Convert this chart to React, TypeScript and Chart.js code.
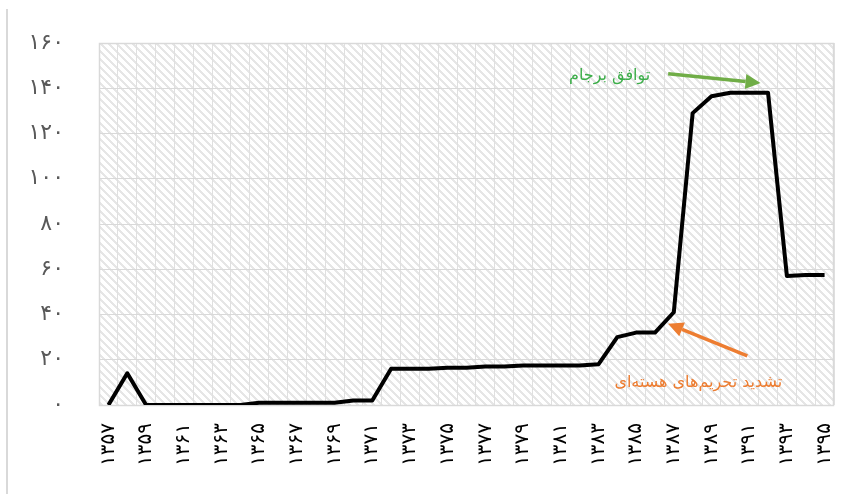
import React, { useEffect, useRef } from "react";
import { Chart, registerables } from "chart.js";

Chart.register(...registerables);

// Categories (solar years, Persian digits)
const years = [
  "۱۳۵۷", "۱۳۵۸", "۱۳۵۹", "۱۳۶۰", "۱۳۶۱", "۱۳۶۲", "۱۳۶۳", "۱۳۶۴", "۱۳۶۵", "۱۳۶۶",
  "۱۳۶۷", "۱۳۶۸", "۱۳۶۹", "۱۳۷۰", "۱۳۷۱", "۱۳۷۲", "۱۳۷۳", "۱۳۷۴", "۱۳۷۵", "۱۳۷۶",
  "۱۳۷۷", "۱۳۷۸", "۱۳۷۹", "۱۳۸۰", "۱۳۸۱", "۱۳۸۲", "۱۳۸۳", "۱۳۸۴", "۱۳۸۵", "۱۳۸۶",
  "۱۳۸۷", "۱۳۸۸", "۱۳۸۹", "۱۳۹۰", "۱۳۹۱", "۱۳۹۲", "۱۳۹۳", "۱۳۹۴", "۱۳۹۵",
];

// Series values
const values = [
  0, 14, 0, 0, 0, 0, 0, 0, 1, 1,
  1, 1, 1, 2, 2, 16, 16, 16, 16.5, 16.5,
  17, 17, 17.5, 17.5, 17.5, 17.5, 18, 30, 32, 32,
  41, 129, 136.5, 138, 138, 138, 57, 57.5, 57.5,
];

// Y tick labels
const yTickValues = [0, 20, 40, 60, 80, 100, 120, 140, 160];
const yTickLabels = ["۰", "۲۰", "۴۰", "۶۰", "۸۰", "۱۰۰", "۱۲۰", "۱۴۰", "۱۶۰"];

// Annotations (in data units: category index, value)
const noteTexts = ["توافق برجام", "تشدید تحریم‌های هسته‌ای"];
const noteTextPos = [
  [28.75, 145.5],
  [35.75, 9.8],
];
const arrowFrom = [
  [29.7, 146.4],
  [33.9, 21.7],
];
const arrowTo = [
  [34.6, 142.3],
  [29.7, 35.9],
];
const noteTextColors = ["#3DAE4A", "#ED7D31"];
const arrowColors = ["#70AD47", "#ED7D31"];

function makeHatch(): HTMLCanvasElement {
  const c = document.createElement("canvas");
  c.width = 8;
  c.height = 8;
  const g = c.getContext("2d")!;
  g.fillStyle = "#ffffff";
  g.fillRect(0, 0, 8, 8);
  g.fillStyle = "#e6e6e6";
  for (let y = 0; y < 8; y++) {
    for (let x = 0; x < 8; x++) {
      const d = (((x - y) % 8) + 8) % 8;
      if (d < 3) g.fillRect(x, y, 1, 1);
    }
  }
  return c;
}

const decorPlugin = {
  id: "decor",
  beforeDraw(chart: any) {
    const { ctx, chartArea: a } = chart;
    ctx.save();
    ctx.fillStyle = "#ffffff";
    ctx.fillRect(0, 0, chart.width, chart.height);
    ctx.fillStyle = "#d9d9d9";
    ctx.fillRect(6, 9, 2, chart.height - 9);
    const pat = ctx.createPattern(makeHatch(), "repeat");
    ctx.fillStyle = pat;
    ctx.fillRect(a.left, a.top, a.right - a.left, a.bottom - a.top);
    ctx.restore();
  },
  beforeDatasetsDraw(chart: any) {
    const { ctx, chartArea: a } = chart;
    ctx.save();
    ctx.strokeStyle = "#d9d9d9";
    ctx.lineWidth = 1.5;
    ctx.strokeRect(a.left + 0.5, a.top + 0.5, a.right - a.left - 1, a.bottom - a.top);
    ctx.restore();
  },
  afterDatasetsDraw(chart: any) {
    const { ctx } = chart;
    const xs = chart.scales.x;
    const ys = chart.scales.y;
    const px = (i: number) => {
      const p0 = xs.getPixelForValue(0);
      const p1 = xs.getPixelForValue(1);
      return p0 + (p1 - p0) * i;
    };
    const py = (v: number) => ys.getPixelForValue(v);
    ctx.save();
    for (let k = 0; k < arrowFrom.length; k++) {
      const x1 = px(arrowFrom[k][0]);
      const y1 = py(arrowFrom[k][1]);
      const x2 = px(arrowTo[k][0]);
      const y2 = py(arrowTo[k][1]);
      const ang = Math.atan2(y2 - y1, x2 - x1);
      const hl = 15;
      const hw = 7.5;
      const bx = x2 - hl * Math.cos(ang);
      const by = y2 - hl * Math.sin(ang);
      ctx.strokeStyle = arrowColors[k];
      ctx.fillStyle = arrowColors[k];
      ctx.lineWidth = 3.5;
      ctx.lineCap = "butt";
      ctx.beginPath();
      ctx.moveTo(x1, y1);
      ctx.lineTo(bx, by);
      ctx.stroke();
      ctx.beginPath();
      ctx.moveTo(x2, y2);
      ctx.lineTo(bx + hw * Math.sin(ang), by - hw * Math.cos(ang));
      ctx.lineTo(bx - hw * Math.sin(ang), by + hw * Math.cos(ang));
      ctx.closePath();
      ctx.fill();
    }
    for (let k = 0; k < noteTexts.length; k++) {
      ctx.font = "16px 'DejaVu Sans'";
      ctx.fillStyle = noteTextColors[k];
      ctx.direction = "rtl";
      ctx.textAlign = "right";
      ctx.textBaseline = "middle";
      ctx.fillText(noteTexts[k], px(noteTextPos[k][0]), py(noteTextPos[k][1]));
    }
    ctx.restore();
  },
};

export default function App() {
  const ref = useRef<HTMLCanvasElement>(null);
  useEffect(() => {
    if (!ref.current) return;
    const chart = new Chart(ref.current, {
      type: "line",
      data: {
        labels: years,
        datasets: [
          {
            data: values,
            borderColor: "#000000",
            borderWidth: 4,
            pointRadius: 0,
            tension: 0,
            fill: false,
            borderJoinStyle: "round",
            borderCapStyle: "butt",
          },
        ],
      },
      options: {
        animation: false,
        responsive: false,
        devicePixelRatio: 1,
        layout: { padding: { top: 43, right: 19, left: 0, bottom: 0 } },
        plugins: { legend: { display: false }, tooltip: { enabled: false } },
        scales: {
          x: {
            type: "category",
            offset: true,
            grid: { color: "#e0e0e0", offset: true, drawTicks: false },
            border: { display: false },
            ticks: {
              autoSkip: false,
              minRotation: 90,
              maxRotation: 90,
              padding: 18,
              color: "#000000",
              font: { family: "'DejaVu Sans'", size: 20 },
              callback: (_v: any, i: number) => (i % 2 === 0 ? years[i] : ""),
            },
            afterFit: (s: any) => {
              s.height = 89;
              s.paddingLeft = 0;
              s.paddingRight = 0;
            },
          },
          y: {
            min: 0,
            max: 160,
            grid: { color: "#d9d9d9", drawTicks: false },
            border: { display: false },
            afterBuildTicks: (s: any) => {
              s.ticks = yTickValues.map((v) => ({ value: v }));
            },
            ticks: {
              padding: 35,
              color: "#595959",
              font: { family: "'DejaVu Sans'", size: 22 },
              callback: (v: any) => yTickLabels[yTickValues.indexOf(Number(v))] ?? "",
            },
            afterFit: (s: any) => {
              s.width = 99;
              s.paddingTop = 0;
              s.paddingBottom = 0;
            },
          },
        },
      },
      plugins: [decorPlugin],
    } as any);
    return () => chart.destroy();
  }, []);
  return (
    <div style={{ position: "absolute", left: 0, top: 0, width: 853, height: 494 }}>
      <canvas ref={ref} width={853} height={494} style={{ display: "block" }} />
    </div>
  );
}
